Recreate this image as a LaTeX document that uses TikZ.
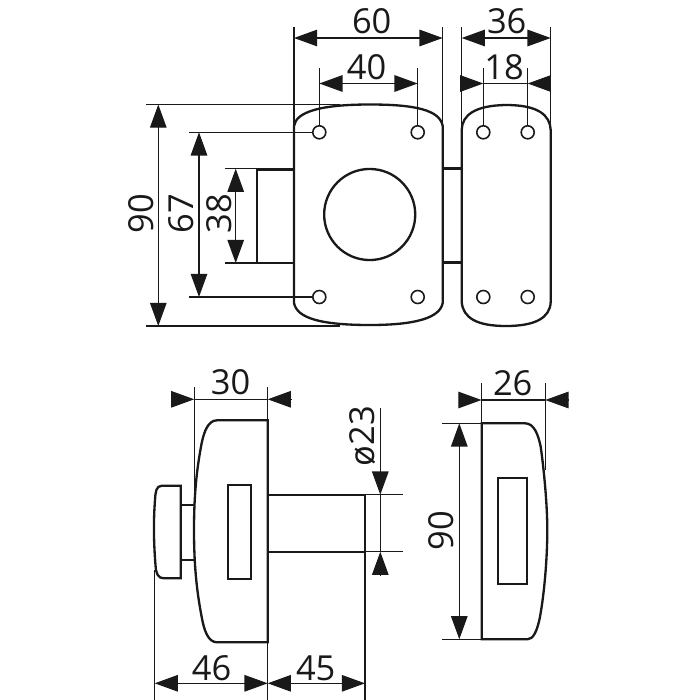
\documentclass[tikz,border=0pt]{standalone}
\usepackage{fontspec}
\setmainfont{Open Sans}
\usetikzlibrary{arrows.meta}
\tikzset{
  outline/.style={line width=0.66pt,black!90},
  dimline/.style={line width=0.34pt,black!90},
  dimarrow/.style={dimline,-{Triangle[length=6.6pt,width=4.7pt]}},
  dimboth/.style={dimline,{Triangle[length=6.6pt,width=4.7pt]}-{Triangle[length=6.6pt,width=4.7pt]}},
  dimlabel/.style={inner sep=0pt,font=\fontsize{9.8pt}{9.8pt}\selectfont,text=black!90},
  hole/.style={circle,draw,line width=0.45pt,black!90,fill=white,inner sep=0pt,minimum size=3.7pt}
}
\begin{document}
\begin{tikzpicture}[x=0.01cm,y=-0.01cm]
  \useasboundingbox (0,0) rectangle (700,700);
  % front plate
  \draw[outline]
    (294,126) .. controls (296,112) and (320,104.5) .. (370,104.5)
    .. controls (415,104.5) and (440,110) .. (442.7,126)
    -- (442.7,303) .. controls (440,318) and (415,325) .. (370,325)
    .. controls (320,325) and (297,318) .. (294,303) -- cycle;
  \node[circle,draw,outline,inner sep=0pt,minimum size=25.9pt] (lockface) at (369.7,214.5) {};
  \draw[outline] (294,169.5) -- (257,169.5) -- (257,263) -- (294,263);
  % back plate
  \draw[outline]
    (461.7,130) .. controls (462,115) and (475,105.5) .. (506,105)
    .. controls (538,105) and (550,115) .. (550.7,130)
    -- (550.7,302) .. controls (550,318) and (535,326) .. (506,326)
    .. controls (477,326) and (463,318) .. (461.7,302) -- cycle;
  \draw[outline] (442.7,168.5) -- (461.7,168.5);
  \draw[outline] (442.7,262.5) -- (461.7,262.5);
  % side view, knob side
  \draw[outline]
    (267.7,420.3) -- (217,420.3) .. controls (208,420.3) and (204,432) .. (201.7,443)
    .. controls (197.5,465) and (194,490) .. (194,530)
    .. controls (194,570) and (197.5,595) .. (201.7,617)
    .. controls (204,630) and (208,642.3) .. (217,642.3) -- (267.7,642.3) -- cycle;
  \draw[outline] (228.3,485) rectangle (250.7,579.3);
  \draw[outline]
    (180.7,485.7) -- (162,485.7) .. controls (156,485.7) and (155.5,492) .. (155,500)
    .. controls (153.5,520) and (153.5,540) .. (155.5,565)
    .. controls (156,574) and (158,578.3) .. (164,578.3) -- (180.7,578.3) -- cycle;
  \draw[outline] (180.7,505.3) -- (194.5,505.3);
  \draw[outline] (180.7,560) -- (194.5,560);
  \draw[outline] (267.7,494.7) -- (365,494.7) -- (365,551.7) -- (267.7,551.7);
  % side view, other side
  \draw[outline]
    (481.7,423.3) -- (525,423.3) .. controls (534,423.3) and (538,434) .. (540.7,446.7)
    .. controls (544,470) and (547.3,505) .. (547.3,530)
    .. controls (547.3,560) and (544,595) .. (540,616.7)
    .. controls (537,632) and (533,639.3) .. (527.3,639.3) -- (481.7,639.3) -- cycle;
  \draw[outline] (498.3,478.3) rectangle (527.3,584.3);
  % dimension points
  \coordinate (a1) at (294,38);
  \coordinate (a2) at (442.7,38);
  \coordinate (b1) at (319.3,83.5);
  \coordinate (b2) at (417.7,83.5);
  \coordinate (c1) at (461.7,38);
  \coordinate (c2) at (550.7,38);
  \coordinate (d1) at (483.3,83.5);
  \coordinate (d2) at (527.7,83.5);
  \coordinate (e1) at (158.3,104.5);
  \coordinate (e2) at (158.3,326);
  \coordinate (f1) at (199,132.3);
  \coordinate (f2) at (199,297);
  \coordinate (g1) at (235.7,168.7);
  \coordinate (g2) at (235.7,263);
  \coordinate (h1) at (194.3,399.3);
  \coordinate (h2) at (267.7,399.3);
  \coordinate (i1) at (154.7,683.3);
  \coordinate (i2) at (267.7,683.3);
  \coordinate (i3) at (365,683.3);
  \coordinate (j1) at (380.3,494.7);
  \coordinate (j2) at (380.3,551.7);
  \coordinate (k1) at (481.5,400);
  \coordinate (k2) at (545.3,400);
  \coordinate (l1) at (459.3,423.3);
  \coordinate (l2) at (459.3,639.3);
  % extension lines
  \begin{scope}[dimline]
    \draw (294,27) to (294,130);
    \draw (442.7,27) to (442.7,130);
    \draw (319.3,68) to (319.3,132.3);
    \draw (417.7,68) to (417.7,132.3);
    \draw (461.7,27) to (461.7,130);
    \draw (550.7,27) to (550.7,130);
    \draw (483.3,68) to (483.3,132.3);
    \draw (527.7,68) to (527.7,132.3);
    \draw (146,104.5) to (340,104.5);
    \draw (146,326) to (340,326);
    \draw (189,132.3) to (319.3,132.3);
    \draw (189,297) to (319.3,297);
    \draw (225,168.7) to (257,168.7);
    \draw (225,263) to (257,263);
    \draw (194.3,387) to (194.3,500);
    \draw (267.7,387) to (267.7,700);
    \draw (154.7,570) to (154.7,700);
    \draw (365,551.7) to (365,700);
    \draw (365,494.7) to (403.3,494.7);
    \draw (365,551.7) to (403.3,551.7);
    \draw (481.5,382.7) to (481.5,423.3);
    \draw (545.3,382.7) to (545.3,470);
    \draw (442.3,423.3) to (481.7,423.3);
    \draw (442.3,639.3) to (481.7,639.3);
  \end{scope}
  % holes
  \node[hole] (hole1) at (319.3,132.3) {};
  \node[hole] (hole2) at (417.7,132.3) {};
  \node[hole] (hole3) at (319.3,297) {};
  \node[hole] (hole4) at (417.7,297) {};
  \node[hole] (hole5) at (483.3,132.3) {};
  \node[hole] (hole6) at (527.7,132.3) {};
  \node[hole] (hole7) at (483.3,297) {};
  \node[hole] (hole8) at (527.7,297) {};
  % dimension lines
  \draw[dimboth] (a1) to (a2);
  \draw[dimboth] (b1) to (b2);
  \draw[dimboth] (c1) to (c2);
  \draw[dimline] (d1) to (d2);
  \draw[dimarrow] (466.5,83.5) to (d1);
  \draw[dimarrow] (546,83.5) to (d2);
  \draw[dimboth] (e1) to (e2);
  \draw[dimboth] (f1) to (f2);
  \draw[dimboth] (g1) to (g2);
  \draw[dimline] (h1) to (h2);
  \draw[dimarrow] (171.7,399.3) to (h1);
  \draw[dimarrow] (291.7,399.3) to (h2);
  \draw[dimboth] (i1) to (i2);
  \draw[dimboth] (i2) to (i3);
  \draw[dimline] (j1) to (j2);
  \draw[dimarrow] (380.3,407.7) to (j1);
  \draw[dimarrow] (380.3,575) to (j2);
  \draw[dimline] (k1) to (k2);
  \draw[dimarrow] (459,400) to (k1);
  \draw[dimarrow] (568,400) to (k2);
  \draw[dimboth] (l1) to (l2);
  % labels
  \node[dimlabel] (w60) at (371.7,20.7) {60};
  \node[dimlabel] (w40) at (366.7,66.7) {40};
  \node[dimlabel] (w36) at (506.7,20.7) {36};
  \node[dimlabel] (w18) at (504,66.7) {18};
  \node[dimlabel,rotate=90] (h90) at (140.7,213.3) {90};
  \node[dimlabel,rotate=90] (h67) at (180.7,213.7) {67};
  \node[dimlabel,rotate=90] (h38) at (219.3,213.3) {38};
  \node[dimlabel] (w30) at (230.7,381.7) {30};
  \node[dimlabel] (w46) at (211.7,668) {46};
  \node[dimlabel] (w45) at (315.7,668) {45};
  \node[dimlabel,rotate=90] (d23) at (363,436) {ø23};
  \node[dimlabel] (w26) at (512.7,382.7) {26};
  \node[dimlabel,rotate=90] (s90) at (441,530.7) {90};
\end{tikzpicture}
\end{document}
